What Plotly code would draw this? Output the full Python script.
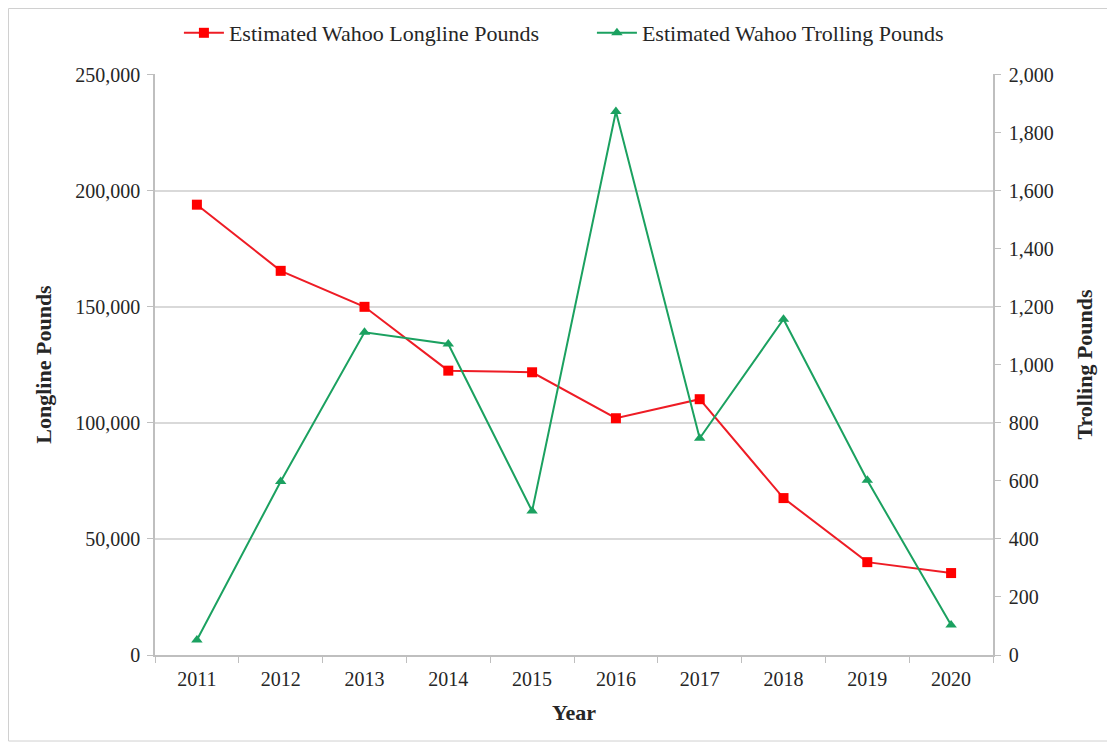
import plotly.graph_objects as go

years = ["2011", "2012", "2013", "2014", "2015", "2016", "2017", "2018", "2019", "2020"]
longline_lbs = [194000, 165500, 150000, 122500, 121800, 102000, 110200, 67600, 40000, 35300]
trolling_lbs = [52, 598, 1112, 1072, 496, 1873, 747, 1157, 602, 103]

left_ticks = [0, 50000, 100000, 150000, 200000, 250000]
right_ticks = list(range(0, 2001, 200))

RED = "#EE1C25"
GREEN = "#1BA160"
FONT = "Liberation Serif"
TXT = "#262626"

# figure sits at an 8px body offset in the page
W, H = 1107, 735
L, R, T, B = 147, 122, 66, 88
pw, ph = W - L - R, H - T - B

fig = go.Figure()
fig.add_trace(go.Scatter(
    x=years, y=longline_lbs, name="Estimated Wahoo Longline Pounds",
    mode="lines+markers",
    line=dict(color=RED, width=2),
    marker=dict(symbol="square", size=10, color="#FF0000"),
    yaxis="y",
))
fig.add_trace(go.Scatter(
    x=years, y=trolling_lbs, name="Estimated Wahoo Trolling Pounds",
    mode="lines+markers",
    line=dict(color=GREEN, width=2),
    marker=dict(symbol="triangle-up", size=10, color=GREEN),
    yaxis="y2",
))

axis_font = dict(family=FONT, size=20, color=TXT)
title_font = dict(family=FONT, size=22, color=TXT)
fig.update_layout(
    width=W, height=H,
    paper_bgcolor="white", plot_bgcolor="white",
    margin=dict(l=L, r=R, t=T, b=B, autoexpand=False),
    font=dict(family=FONT, size=20, color=TXT),
    showlegend=True,
    legend=dict(orientation="h", x=-0.0001, xanchor="left", y=1 + 41 / ph, yanchor="middle",
                font=dict(family=FONT, size=22, color=TXT), itemwidth=40,
                indentation=24, entrywidth=334,
                traceorder="normal", bgcolor="rgba(0,0,0,0)"),
    xaxis=dict(
        type="category", tickson="boundaries", ticks="outside", ticklen=6,
        tickcolor="#bfbfbf", showline=True, linecolor="#bfbfbf", linewidth=1.5,
        showgrid=False, tickfont=axis_font, ticklabelstandoff=5,
        title=dict(text="<b>Year</b>", font=title_font, standoff=16),
        range=[-0.5, 9.5],
    ),
    yaxis=dict(
        range=[0, 250300], tickvals=left_ticks, tickformat=",",
        ticks="outside", ticklen=6, tickcolor="#bfbfbf", ticklabelstandoff=3,
        showline=True, linecolor="#bfbfbf", linewidth=1.5,
        showgrid=True, gridcolor="#d9d9d9", gridwidth=1.5,
        zeroline=False, tickfont=axis_font,
        title=dict(text="<b>Longline Pounds</b>", font=title_font, standoff=18),
    ),
    yaxis2=dict(
        range=[0, 2002.4], tickvals=right_ticks, tickformat=",",
        overlaying="y", side="right",
        ticks="outside", ticklen=6, tickcolor="#bfbfbf", ticklabelstandoff=4,
        showline=True, linecolor="#bfbfbf", linewidth=1.5,
        showgrid=False, zeroline=False, tickfont=axis_font,
        title=dict(text="<b>Trolling Pounds</b>", font=title_font, standoff=24),
    ),
    shapes=[dict(type="rect", xref="paper", yref="paper",
                 x0=(0.5 - L) / pw, x1=(W - 2 - L) / pw,
                 y0=-(B - 2) / ph, y1=1 + (T - 0.5) / ph,
                 line=dict(color="#d0d0d0", width=1))],
)

fig.write_html("out.html")
